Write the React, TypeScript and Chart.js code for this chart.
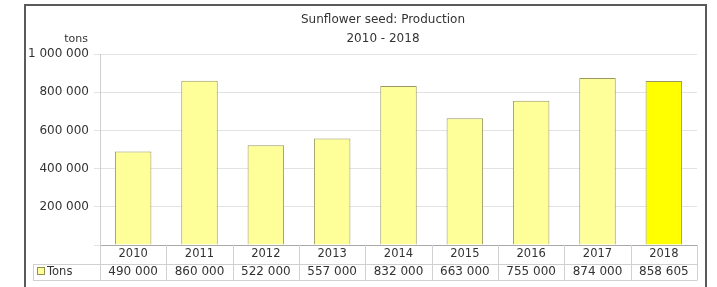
import React, { useEffect, useRef } from "react";
import { Chart, registerables } from "chart.js";

Chart.register(...registerables);

const years = ["2010", "2011", "2012", "2013", "2014", "2015", "2016", "2017", "2018"];
const tons = [490000, 860000, 522000, 557000, 832000, 663000, 755000, 874000, 858605];
const barColors = ["#FFFF99", "#FFFF99", "#FFFF99", "#FFFF99", "#FFFF99", "#FFFF99", "#FFFF99", "#FFFF99", "#FFFF00"];
const titleLines = ["Sunflower seed: Production", "2010 - 2018"];
const unitLabel = "tons";
const seriesName = "Tons";

const FONT = '"DejaVu Sans", Verdana, sans-serif';
const TEXT = "#333";

const fmt = (v: number) => String(Math.round(v)).replace(/\B(?=(\d{3})+(?!\d))/g, " ");

const decor = {
  id: "decor",
  afterDraw(chart: any) {
    const ctx = chart.ctx as CanvasRenderingContext2D;
    const xs = chart.scales.x;
    const area = chart.chartArea;
    ctx.save();
    // outer border
    ctx.strokeStyle = "#5a5a5a";
    ctx.lineWidth = 2;
    ctx.beginPath();
    ctx.moveTo(25, 300);
    ctx.lineTo(25, 5);
    ctx.lineTo(706, 5);
    ctx.lineTo(706, 300);
    ctx.stroke();

    // title
    ctx.fillStyle = TEXT;
    ctx.font = `12px ${FONT}`;
    ctx.textAlign = "center";
    ctx.textBaseline = "middle";
    ctx.fillText(titleLines[0], 383, 20);
    ctx.fillText(titleLines[1], 383, 39);

    // unit label
    ctx.font = `11px ${FONT}`;
    ctx.textAlign = "right";
    ctx.fillText(unitLabel, 88, 39);

    // table
    const top = area.bottom;
    const mid = 264.5;
    const bot = 280.5;
    const right = area.right;
    ctx.strokeStyle = "#d0d0d0";
    ctx.lineWidth = 1;
    ctx.beginPath();
    ctx.moveTo(33, mid);
    ctx.lineTo(right, mid);
    ctx.moveTo(33, bot);
    ctx.lineTo(right, bot);
    const n = years.length;
    const step = (right - area.left) / n;
    for (let i = 0; i <= n; i++) {
      const x = Math.round(area.left + i * step) + 0.5;
      ctx.moveTo(x, top);
      ctx.lineTo(x, bot);
    }
    ctx.moveTo(33.5, mid);
    ctx.lineTo(33.5, bot);
    ctx.stroke();

    // legend key
    ctx.fillStyle = "#FFFF99";
    ctx.fillRect(38, 268, 6, 6);
    ctx.strokeStyle = "#909050";
    ctx.strokeRect(37.5, 267.5, 7, 7);
    ctx.fillStyle = TEXT;
    ctx.font = `11.5px ${FONT}`;
    ctx.textAlign = "left";
    ctx.fillText(seriesName, 47, 272);

    // values row
    ctx.font = `12px ${FONT}`;
    ctx.textAlign = "center";
    tons.forEach((v, i) => {
      ctx.fillText(fmt(v), xs.getPixelForValue(i), 272);
    });
    ctx.restore();
  },
};

export default function App() {
  const ref = useRef<HTMLCanvasElement | null>(null);
  useEffect(() => {
    if (!ref.current) return;
    const chart = new Chart(ref.current, {
      type: "bar",
      data: {
        labels: years,
        datasets: [
          {
            label: seriesName,
            data: tons,
            backgroundColor: barColors,
            borderColor: "#999960",
            borderWidth: 1,
            barPercentage: 0.55,
            categoryPercentage: 1,
          },
        ],
      },
      options: {
        animation: false,
        responsive: false,
        maintainAspectRatio: false,
        devicePixelRatio: 1,
        layout: { padding: { left: 0, right: 20, top: 54, bottom: 0 } },
        plugins: { legend: { display: false }, title: { display: false }, tooltip: { enabled: false } },
        scales: {
          x: {
            grid: { display: false, drawTicks: false },
            border: { display: true, color: "#a8a8a8" },
            ticks: { color: TEXT, font: { family: FONT, size: 11.5 }, padding: 2, maxRotation: 0 },
            afterFit: (s: any) => {
              s.height = 42;
            },
          },
          y: {
            min: 0,
            max: 1000000,
            grid: { color: "#e2e2e2", tickLength: 6 },
            border: { display: true, color: "#cfcfcf" },
            ticks: {
              stepSize: 200000,
              color: TEXT,
              font: { family: FONT, size: 12 },
              padding: 5,
              callback: (v: any) => (Number(v) === 0 ? "" : fmt(Number(v))),
            },
            afterFit: (s: any) => {
              s.width = 100;
            },
          },
        },
      },
      plugins: [decor],
    });
    return () => chart.destroy();
  }, []);
  return (
    <div style={{ position: "absolute", left: 0, top: 0, width: 717, height: 287, background: "#fff" }}>
      <canvas ref={ref} width={717} height={287} style={{ display: "block", width: 717, height: 287 }} />
    </div>
  );
}
